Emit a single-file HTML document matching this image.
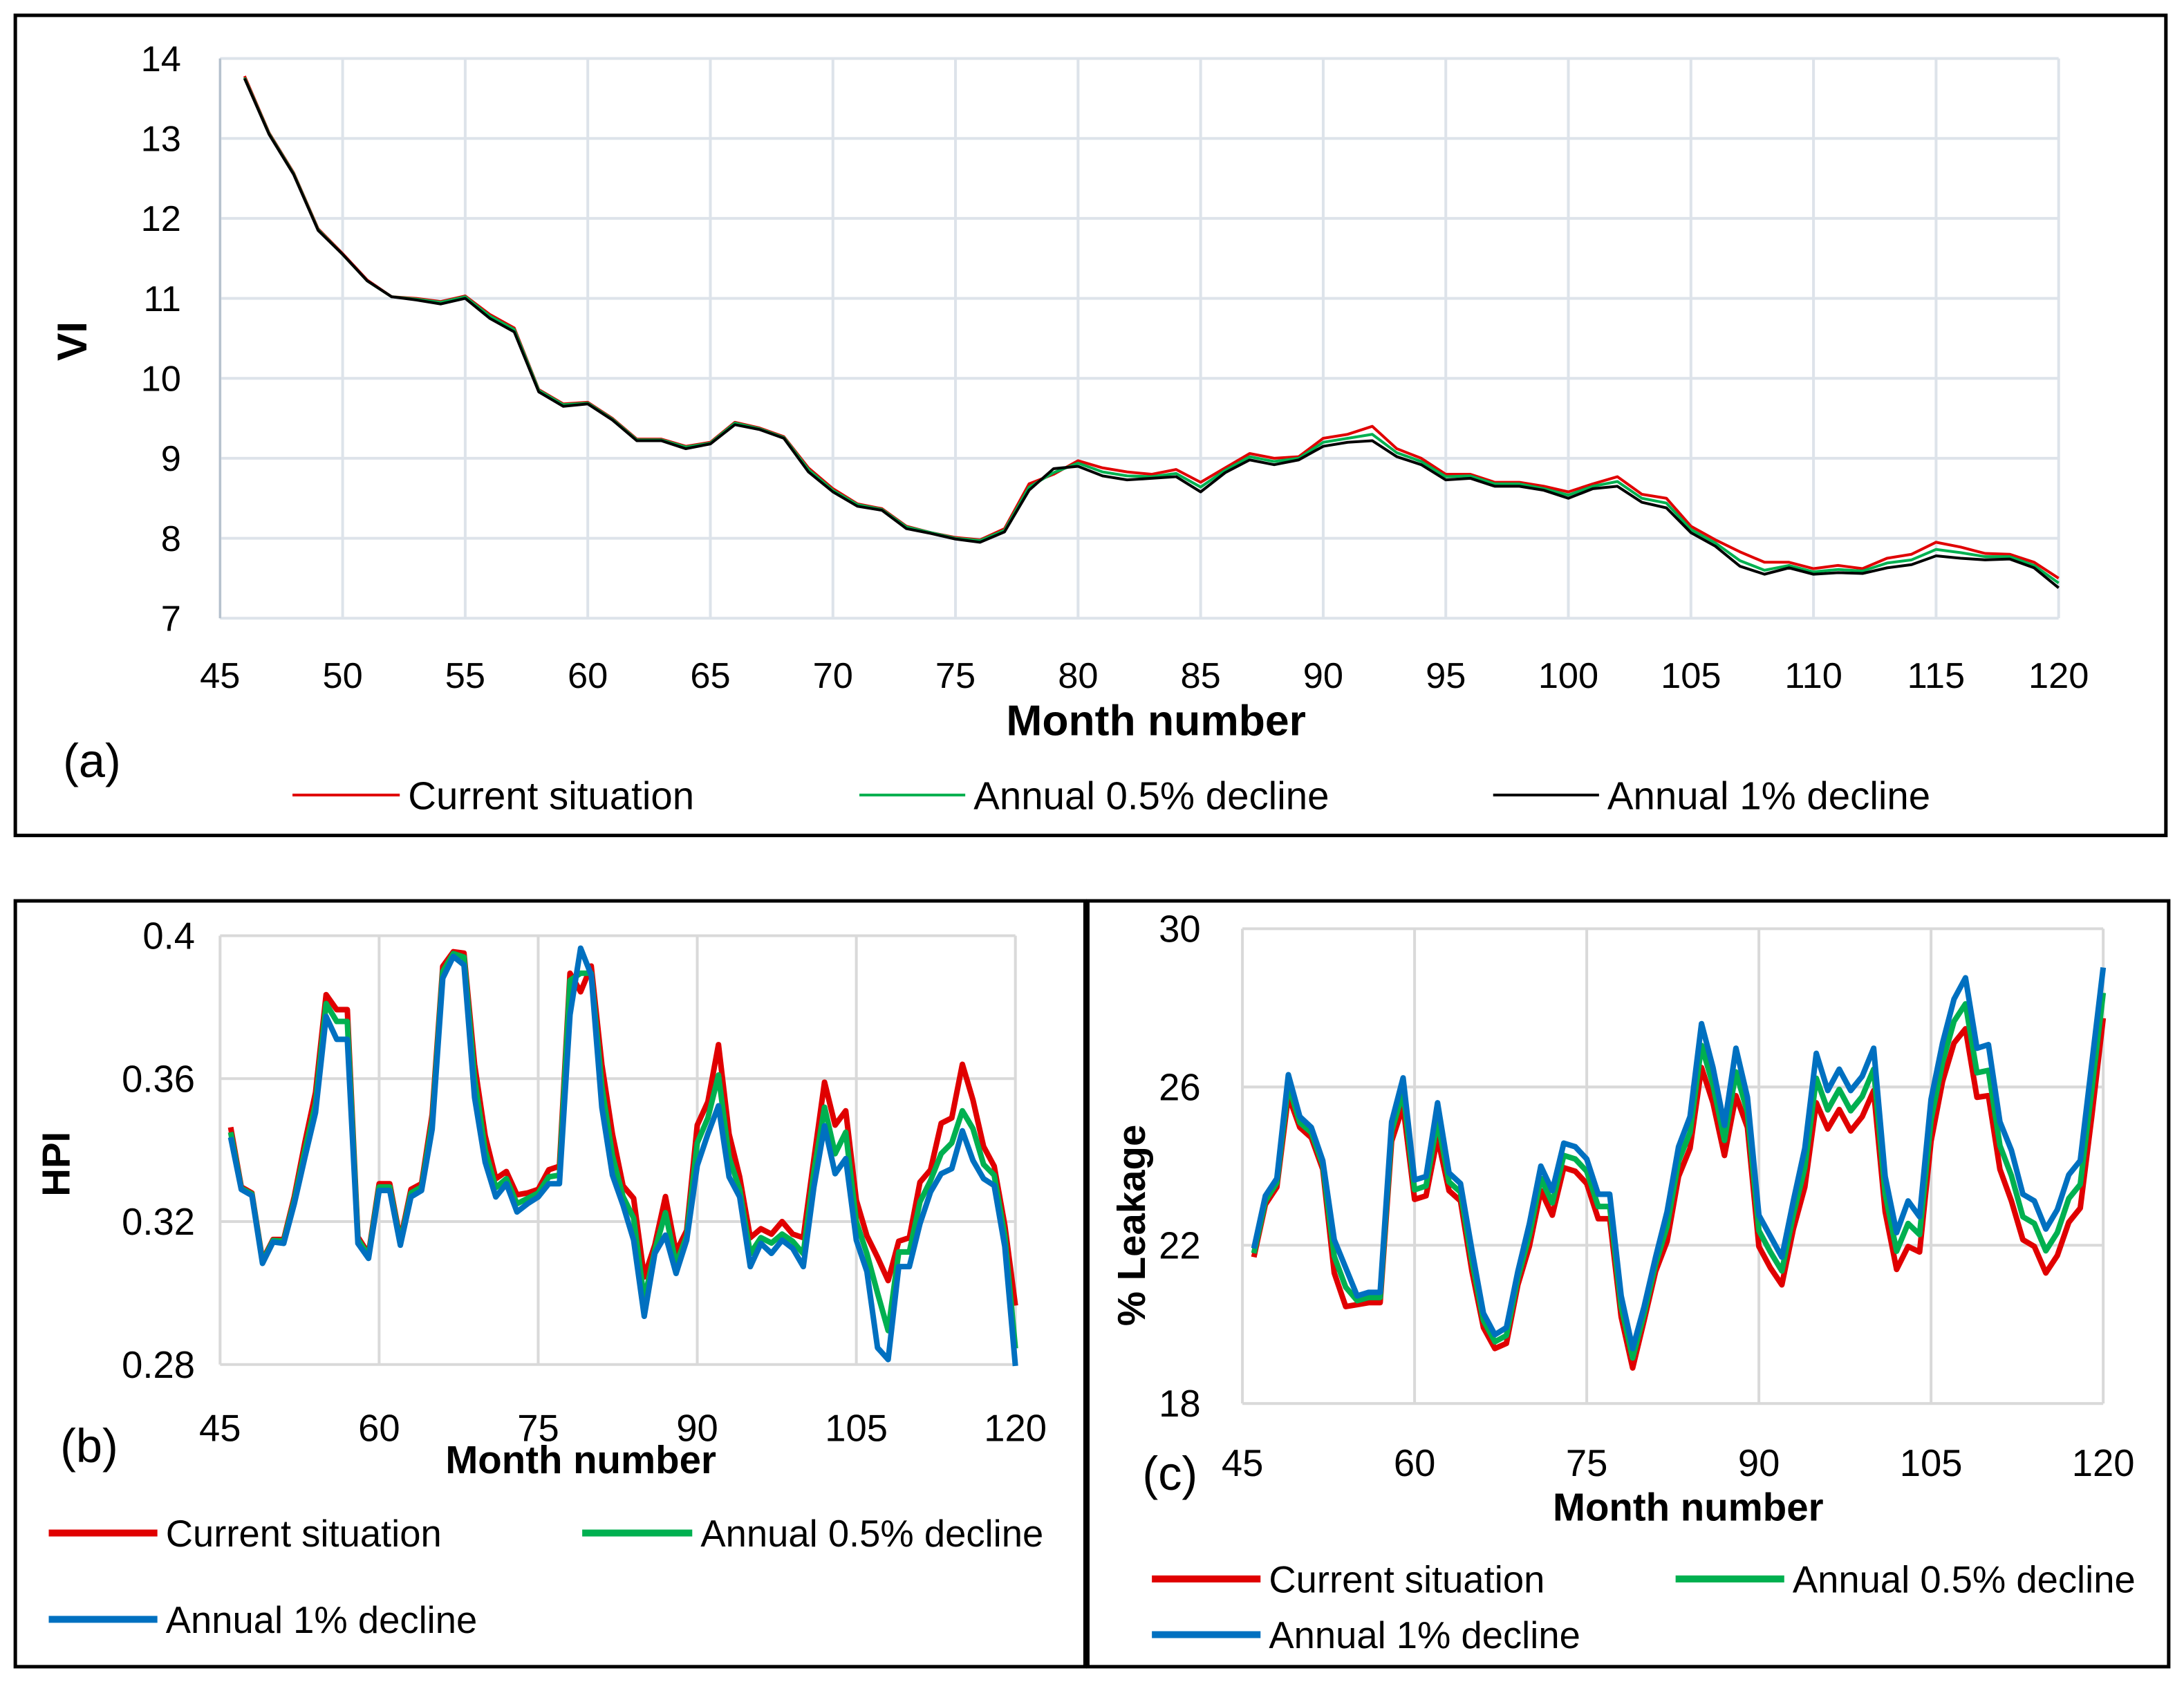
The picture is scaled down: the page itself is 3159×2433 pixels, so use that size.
<!DOCTYPE html>
<html><head><meta charset="utf-8"><style>
html,body{margin:0;padding:0;background:#fff}
svg{display:block}
text{font-family:"Liberation Sans",sans-serif;fill:#000}
</style></head><body>
<svg id="fig" xmlns="http://www.w3.org/2000/svg" width="3159" height="2433" viewBox="0 0 1568 1208" preserveAspectRatio="none">
<rect x="0" y="0" width="1568" height="1208" fill="#fff"/>
<rect x="11" y="11" width="1544" height="589" fill="none" stroke="#000" stroke-width="2.5"/>
<rect x="11" y="647" width="768" height="550" fill="none" stroke="#000" stroke-width="2.5"/>
<rect x="781" y="647" width="776" height="550" fill="none" stroke="#000" stroke-width="2.5"/>
<g id="ga"></g>
<g id="gb"></g>
<g id="gc"></g>
</svg>
<script>
const months=[];for(let m=46;m<=120;m++)months.push(m);
const viCurrent=[13.78,13.07,12.57,11.87,11.56,11.23,11.02,11.0,10.96,11.03,10.8,10.63,9.86,9.68,9.7,9.5,9.24,9.24,9.15,9.2,9.45,9.38,9.27,8.88,8.62,8.43,8.37,8.15,8.07,8.01,7.98,8.12,8.68,8.8,8.97,8.88,8.83,8.8,8.86,8.7,8.88,9.06,9.0,9.02,9.25,9.3,9.4,9.12,9.0,8.8,8.8,8.7,8.7,8.65,8.58,8.68,8.77,8.55,8.5,8.15,7.98,7.83,7.7,7.7,7.62,7.66,7.62,7.75,7.8,7.95,7.89,7.81,7.8,7.7,7.5];
const viHalf=[13.76,13.06,12.56,11.86,11.55,11.22,11.02,10.99,10.95,11.02,10.78,10.61,9.85,9.67,9.69,9.49,9.23,9.23,9.14,9.19,9.44,9.37,9.26,8.86,8.6,8.42,8.36,8.14,8.07,8.0,7.97,8.1,8.64,8.82,8.94,8.83,8.78,8.77,8.81,8.64,8.85,9.02,8.96,9.0,9.2,9.25,9.3,9.07,8.96,8.77,8.78,8.68,8.68,8.62,8.54,8.65,8.71,8.5,8.44,8.11,7.94,7.72,7.6,7.66,7.58,7.61,7.59,7.69,7.73,7.86,7.82,7.77,7.77,7.66,7.44];
const viOne=[13.75,13.05,12.55,11.85,11.55,11.22,11.02,10.98,10.93,11.0,10.75,10.58,9.83,9.65,9.68,9.48,9.22,9.22,9.12,9.18,9.42,9.36,9.25,8.83,8.58,8.4,8.35,8.12,8.06,7.99,7.95,8.08,8.6,8.87,8.9,8.78,8.73,8.75,8.77,8.58,8.82,8.98,8.92,8.98,9.15,9.2,9.22,9.02,8.92,8.73,8.75,8.65,8.65,8.6,8.5,8.62,8.65,8.45,8.38,8.07,7.9,7.65,7.55,7.63,7.55,7.57,7.56,7.63,7.67,7.78,7.75,7.73,7.74,7.63,7.38];
const hpiCurrent=[0.3464,0.3297,0.328,0.3092,0.315,0.315,0.327,0.3422,0.3561,0.3835,0.3793,0.3793,0.3157,0.311,0.3306,0.3306,0.3148,0.329,0.3306,0.35,0.3914,0.3955,0.3951,0.364,0.344,0.332,0.334,0.3275,0.328,0.329,0.3345,0.3355,0.3895,0.3843,0.3915,0.364,0.3445,0.33,0.3265,0.3045,0.3135,0.327,0.3115,0.3175,0.347,0.3535,0.3695,0.3445,0.3325,0.3155,0.318,0.3165,0.32,0.3165,0.3155,0.3375,0.359,0.347,0.351,0.326,0.316,0.31,0.3035,0.3145,0.3155,0.331,0.3345,0.3475,0.349,0.364,0.354,0.341,0.3355,0.319,0.2965];
const hpiHalf=[0.345,0.3293,0.3277,0.3088,0.3147,0.3145,0.326,0.34,0.353,0.381,0.376,0.376,0.315,0.3105,0.3297,0.3297,0.3141,0.328,0.3297,0.348,0.39,0.395,0.394,0.36,0.34,0.3295,0.332,0.325,0.3265,0.328,0.3325,0.333,0.3875,0.3895,0.3895,0.358,0.3385,0.327,0.321,0.298,0.312,0.3225,0.308,0.316,0.342,0.349,0.361,0.338,0.329,0.311,0.3155,0.314,0.3165,0.3145,0.311,0.334,0.352,0.339,0.345,0.32,0.311,0.3,0.2895,0.3115,0.3115,0.3255,0.3315,0.339,0.342,0.351,0.346,0.336,0.333,0.316,0.2845];
const hpiOne=[0.3436,0.329,0.3273,0.3083,0.3143,0.3139,0.325,0.338,0.3505,0.3774,0.371,0.371,0.3139,0.3097,0.3287,0.3287,0.3134,0.3269,0.3287,0.3459,0.3881,0.3942,0.3918,0.3547,0.3366,0.3269,0.3306,0.3227,0.325,0.3269,0.3306,0.3306,0.3779,0.3965,0.389,0.352,0.333,0.3246,0.3148,0.2935,0.3111,0.3162,0.3055,0.3148,0.3357,0.3445,0.3524,0.3325,0.3269,0.3074,0.3139,0.3111,0.3148,0.3125,0.3074,0.3297,0.3468,0.3334,0.3376,0.3148,0.306,0.2847,0.2814,0.3074,0.3074,0.3194,0.3283,0.3334,0.3348,0.3454,0.3371,0.332,0.3301,0.313,0.2796];
const leakCurrent=[21.7,23.03,23.47,25.78,24.98,24.72,23.92,21.3,20.45,20.5,20.55,20.55,24.63,25.52,23.16,23.25,24.72,23.38,23.12,21.34,19.92,19.39,19.52,21.0,21.97,23.38,22.76,23.96,23.87,23.56,22.67,22.67,20.19,18.9,20.1,21.34,22.1,23.74,24.45,26.49,25.6,24.27,25.78,24.98,21.97,21.43,21.0,22.41,23.47,25.6,24.94,25.43,24.89,25.25,25.91,22.85,21.39,21.97,21.83,24.63,26.14,27.11,27.47,25.74,25.78,23.92,23.12,22.14,21.97,21.3,21.74,22.58,22.94,25.25,27.74];
const leakHalf=[21.8,23.12,23.58,26.05,25.1,24.85,24.03,21.72,20.94,20.6,20.68,20.68,24.88,25.88,23.4,23.5,25.16,23.6,23.34,21.6,20.1,19.56,19.72,21.17,22.25,23.69,23.07,24.27,24.18,23.87,22.98,22.98,20.45,19.15,20.27,21.52,22.48,24.12,24.85,27.05,26.05,24.65,26.38,25.36,22.37,21.83,21.35,22.77,23.96,26.22,25.42,25.94,25.4,25.76,26.45,23.3,21.85,22.55,22.27,25.16,26.62,27.66,28.1,26.36,26.42,24.52,23.76,22.72,22.55,21.86,22.32,23.18,23.54,25.92,28.38];
const leakOne=[21.92,23.25,23.69,26.31,25.25,24.98,24.14,22.14,21.43,20.72,20.81,20.81,25.12,26.23,23.65,23.74,25.6,23.83,23.56,21.87,20.28,19.74,19.92,21.34,22.54,24.0,23.38,24.58,24.49,24.18,23.29,23.29,20.72,19.39,20.45,21.7,22.85,24.49,25.25,27.6,26.49,25.03,26.98,25.74,22.76,22.23,21.7,23.12,24.45,26.85,25.91,26.45,25.91,26.27,26.98,23.74,22.32,23.12,22.72,25.69,27.11,28.22,28.76,26.98,27.07,25.12,24.4,23.29,23.12,22.41,22.9,23.78,24.14,26.58,29.02];
const xTicksA=[45,50,55,60,65,70,75,80,85,90,95,100,105,110,115,120];
const yTicksA=[7,8,9,10,11,12,13,14];
const xTicksBC=[45,60,75,90,105,120];
const yTicksB=[0.28,0.32,0.36,0.4];
const yTicksC=[18,22,26,30];
const legendNames=["Current situation","Annual 0.5% decline","Annual 1% decline"];

const NS="http://www.w3.org/2000/svg";
function mk(parent,tag,attrs,txt){const e=document.createElementNS(NS,tag);for(const k in attrs)e.setAttribute(k,attrs[k]);if(txt!==undefined)e.textContent=txt;parent.appendChild(e);return e;}

function chart(g,cfg){
  const sx=v=>cfg.x0+(v-cfg.xmin)/(cfg.xmax-cfg.xmin)*(cfg.x1-cfg.x0);
  const sy=v=>cfg.y1-(v-cfg.ymin)/(cfg.ymax-cfg.ymin)*(cfg.y1-cfg.y0);
  cfg.xt.forEach(t=>{
    const l=mk(g,'line',{x1:sx(t),x2:sx(t),y1:cfg.y0,y2:cfg.y1,stroke:cfg.grid,'stroke-width':cfg.gw});
    
    
    const tx=mk(g,'text',{x:sx(t),y:cfg.xly,'font-size':cfg.fs,'text-anchor':'middle'},String(t));
    
    
  });
  cfg.yt.forEach(t=>{
    const l=mk(g,'line',{x1:cfg.x0,x2:cfg.x1,y1:sy(t),y2:sy(t),stroke:cfg.grid,'stroke-width':cfg.gw});
    
    
    const tx=mk(g,'text',{x:cfg.x0-cfg.ylpad,y:sy(t)+cfg.fs*0.35,'font-size':cfg.fs,'text-anchor':'end'},String(t));
    
    
  });
  if(cfg.axis){const a=mk(g,'line',{x1:cfg.x0,x2:cfg.x0,y1:cfg.y0,y2:cfg.y1,stroke:cfg.axis,'stroke-width':1.5});
    
    }
  cfg.series.forEach((s,i)=>{
    const d=s.v.map((v,j)=>(j?'L':'M')+sx(months[j]).toFixed(2)+' '+sy(v).toFixed(2)).join(' ');
    const p=mk(g,'path',{d:d,fill:'none',stroke:s.c,'stroke-width':cfg.lw,'stroke-linejoin':'round'});
    
    
  });
}
const ga=document.getElementById('ga'),gb=document.getElementById('gb'),gc=document.getElementById('gc');
chart(ga,{x0:158,x1:1478,y0:42,y1:444,xmin:45,xmax:120,ymin:7,ymax:14,xt:xTicksA,yt:yTicksA,grid:'#dde3ea',gw:2,axis:'#b4c0cc',fs:26,xly:494,ylpad:28,lw:2,
  series:[{v:viCurrent,c:'#e00000',n:'current'},{v:viHalf,c:'#00b050',n:'half-percent'},{v:viOne,c:'#000',n:'one-percent'}]});
chart(gb,{x0:158,x1:729,y0:672,y1:980,xmin:45,xmax:120,ymin:0.28,ymax:0.4,xt:xTicksBC,yt:yTicksB,grid:'#d9d9d9',gw:2,axis:null,fs:27,xly:1035,ylpad:18,lw:4,
  series:[{v:hpiCurrent,c:'#e00000',n:'current'},{v:hpiHalf,c:'#00b050',n:'half-percent'},{v:hpiOne,c:'#0070c0',n:'one-percent'}]});
chart(gc,{x0:892,x1:1510,y0:667,y1:1008,xmin:45,xmax:120,ymin:18,ymax:30,xt:xTicksBC,yt:yTicksC,grid:'#d9d9d9',gw:2,axis:null,fs:27,xly:1060,ylpad:30,lw:4,
  series:[{v:leakCurrent,c:'#e00000',n:'current'},{v:leakHalf,c:'#00b050',n:'half-percent'},{v:leakOne,c:'#0070c0',n:'one-percent'}]});

function label(g,name,x,y,txt,fs,bold,rot){
  const a={x:x,y:y,'font-size':fs,'text-anchor':'middle'};
  if(bold)a['font-weight']='bold';
  if(rot)a.transform='rotate(-90 '+x+' '+y+')';
  const t=mk(g,'text',a,txt);
  
  
}
label(ga,'x-axis-title',830,528,'Month number',31,true);
label(ga,'y-axis-title',62,245,'VI',30,true,true);
label(ga,'panel-label-a',66,558,'(a)',34,false);
label(gb,'x-axis-title',417,1058,'Month number',28,true);
label(gb,'y-axis-title',50,836,'HPI',28,true,true);
label(gb,'panel-label-b',64,1050,'(b)',34,false);
label(gc,'x-axis-title',1212,1092,'Month number',28,true);
label(gc,'y-axis-title',822,880,'% Leakage',28,true,true);
label(gc,'panel-label-c',840,1070,'(c)',34,false);

function legend(g,x1,x2,y,col,txt,lw,fs){
  const l=mk(g,'line',{x1:x1,x2:x2,y1:y,y2:y,stroke:col,'stroke-width':lw});
  
  
  const t=mk(g,'text',{x:x2+6,y:y+fs*0.36,'font-size':fs},txt);
  
  
}
legend(ga,210,287,571,'#e00000',legendNames[0],2,28);
legend(ga,617,693,571,'#00b050',legendNames[1],2,28);
legend(ga,1072,1148,571,'#000',legendNames[2],2,28);
legend(gb,35,113,1101,'#e00000',legendNames[0],5,27);
legend(gb,418,497,1101,'#00b050',legendNames[1],5,27);
legend(gb,35,113,1163,'#0070c0',legendNames[2],5,27);
legend(gc,827,905,1134,'#e00000',legendNames[0],5,27);
legend(gc,1203,1281,1134,'#00b050',legendNames[1],5,27);
legend(gc,827,905,1174,'#0070c0',legendNames[2],5,27);
</script>
</body></html>
